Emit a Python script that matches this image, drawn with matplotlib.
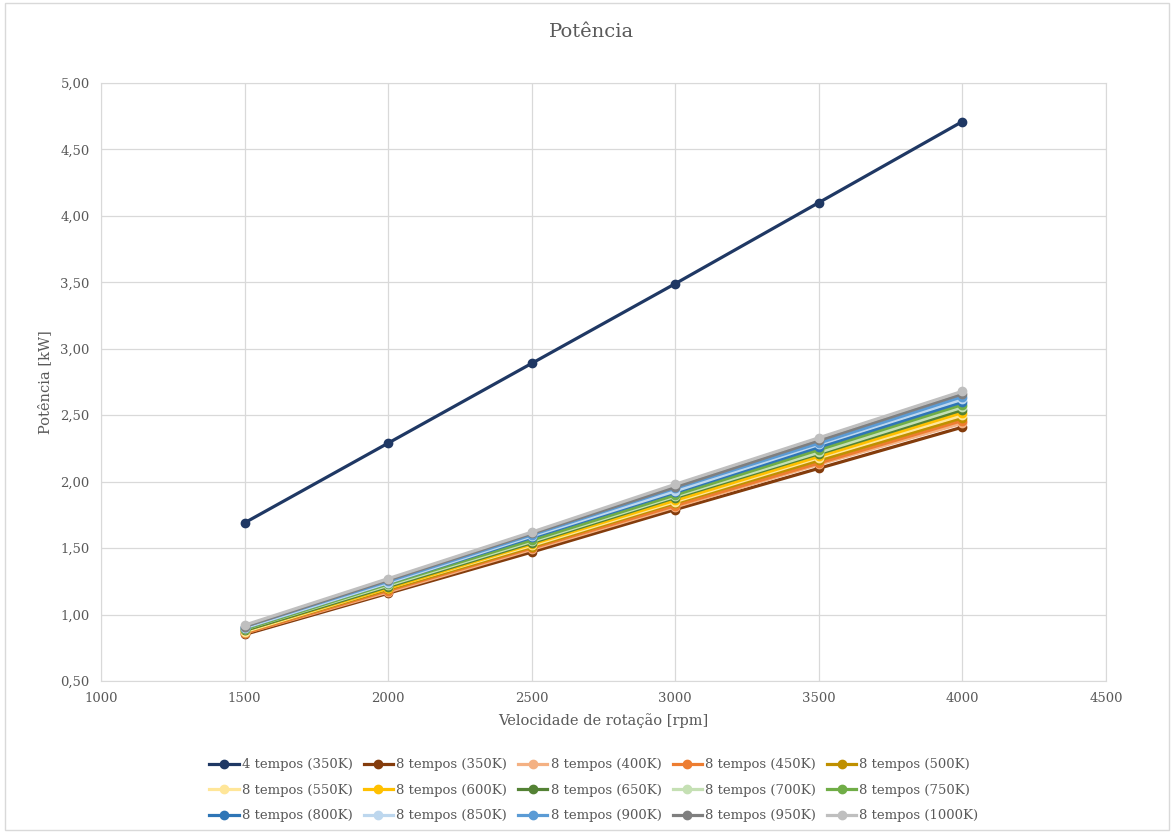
import matplotlib
matplotlib.use("Agg")
import matplotlib.pyplot as plt
from matplotlib.ticker import FuncFormatter, MultipleLocator
from matplotlib.patches import Rectangle

rpm = [1500, 2000, 2500, 3000, 3500, 4000]

labels = ["4 tempos (350K)", "8 tempos (350K)", "8 tempos (400K)", "8 tempos (450K)",
          "8 tempos (500K)", "8 tempos (550K)", "8 tempos (600K)", "8 tempos (650K)",
          "8 tempos (700K)", "8 tempos (750K)", "8 tempos (800K)", "8 tempos (850K)",
          "8 tempos (900K)", "8 tempos (950K)", "8 tempos (1000K)"]

p_4t_350 = [1.69, 2.29, 2.89, 3.49, 4.10, 4.71]
p_8t_350 = [0.85, 1.16, 1.47, 1.79, 2.10, 2.41]
p_8t_400 = [0.86, 1.17, 1.49, 1.81, 2.13, 2.44]
p_8t_450 = [0.86, 1.18, 1.50, 1.82, 2.14, 2.46]
p_8t_500 = [0.87, 1.19, 1.51, 1.84, 2.16, 2.48]
p_8t_550 = [0.87, 1.20, 1.52, 1.85, 2.18, 2.50]
p_8t_600 = [0.88, 1.20, 1.53, 1.86, 2.19, 2.52]
p_8t_650 = [0.88, 1.21, 1.54, 1.88, 2.21, 2.54]
p_8t_700 = [0.89, 1.22, 1.55, 1.89, 2.22, 2.56]
p_8t_750 = [0.89, 1.23, 1.56, 1.90, 2.24, 2.58]
p_8t_800 = [0.90, 1.24, 1.58, 1.92, 2.26, 2.60]
p_8t_850 = [0.90, 1.24, 1.59, 1.93, 2.28, 2.62]
p_8t_900 = [0.91, 1.25, 1.60, 1.95, 2.29, 2.64]
p_8t_950 = [0.91, 1.26, 1.61, 1.96, 2.31, 2.66]
p_8t_1000 = [0.92, 1.27, 1.62, 1.98, 2.33, 2.68]

series = [p_4t_350, p_8t_350, p_8t_400, p_8t_450, p_8t_500, p_8t_550, p_8t_600,
          p_8t_650, p_8t_700, p_8t_750, p_8t_800, p_8t_850, p_8t_900, p_8t_950, p_8t_1000]

colors = ["#1F3864", "#843C0C", "#F4B183", "#ED7D31", "#BF9000", "#FFE699", "#FFC000",
          "#548235", "#C5E0B4", "#70AD47", "#2E75B6", "#BDD7EE", "#5B9BD5", "#7F7F7F", "#BFBFBF"]

plt.rcParams['font.family'] = ['DejaVu Serif']
txt = "#595959"

fig = plt.figure(figsize=(11.74, 8.32), dpi=100)
ax = fig.add_axes([0.086, 0.1815, 0.856, 0.7187])

handles = []
for vals, lab, c in zip(series, labels, colors):
    h, = ax.plot(rpm, vals, color=c, lw=2.3, marker='o', ms=6, label=lab, zorder=3)
    handles.append(h)

ax.set_xlim(1000, 4500)
ax.set_ylim(0.5, 5.0)
ax.xaxis.set_major_locator(MultipleLocator(500))
ax.yaxis.set_major_locator(MultipleLocator(0.5))
ax.yaxis.set_major_formatter(FuncFormatter(lambda v, p: f"{v:.2f}".replace(".", ",")))
ax.grid(True, color="#D9D9D9", lw=0.9, zorder=0)
for s in ax.spines.values():
    s.set_color("#D9D9D9")
ax.tick_params(length=0, colors=txt, labelsize=9.5, pad=8)
ax.set_xlabel("Velocidade de rotação [rpm]", color=txt, fontsize=10.5, labelpad=6)
ax.set_ylabel("Potência [kW]", color=txt, fontsize=10.5, labelpad=6)
fig.text(0.504, 0.962, "Potência", ha='center', va='center', color=txt, fontsize=14)

ncol, nrow = 5, 3
order = [r * ncol + c for c in range(ncol) for r in range(nrow)]
fig.legend([handles[i] for i in order], [labels[i] for i in order],
           loc='center', bbox_to_anchor=(0.506, 0.05), ncol=ncol, frameon=False,
           fontsize=9.5, labelcolor=txt, handlelength=2.2, handletextpad=0.25,
           columnspacing=0.85, labelspacing=0.95)

fig.patches.append(Rectangle((0.004, 0.002), 0.992, 0.994, transform=fig.transFigure,
                             fill=False, edgecolor="#D9D9D9", lw=1))

fig.savefig("out.png", dpi=100)
